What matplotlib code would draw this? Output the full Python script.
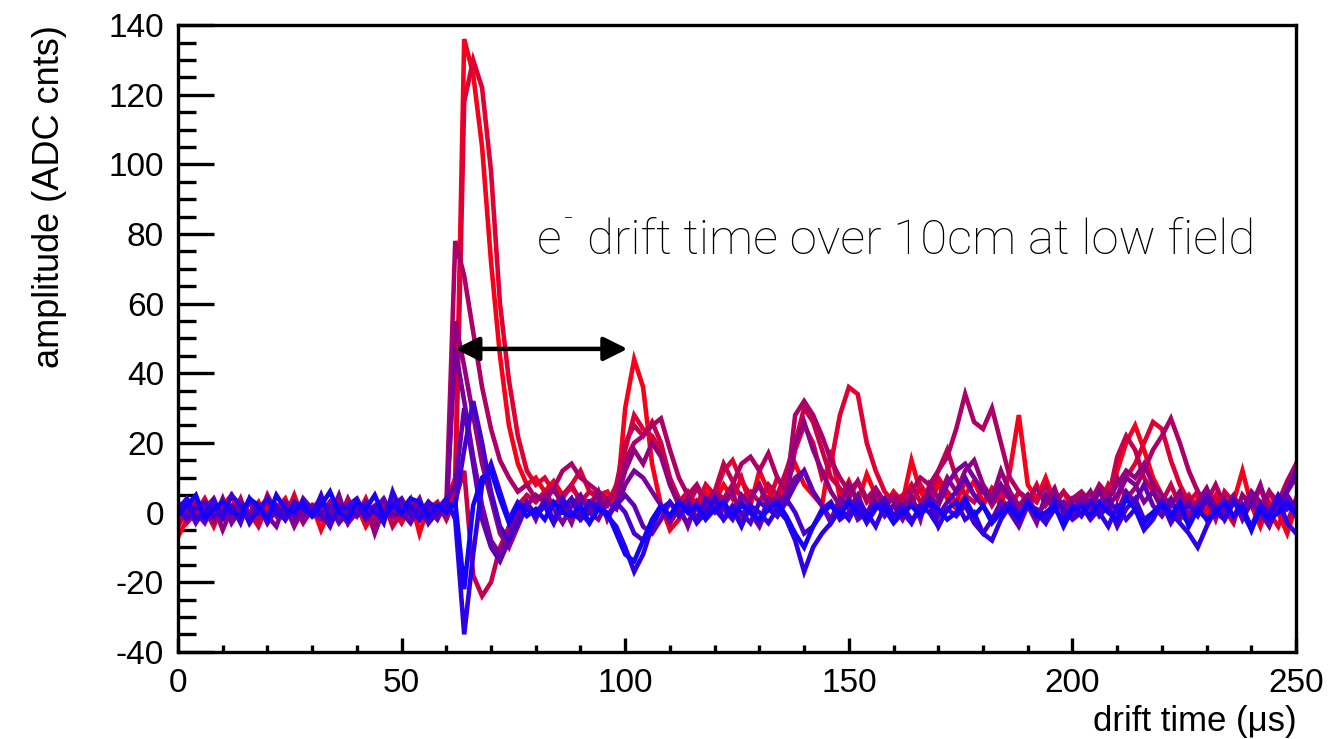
import numpy as np
import matplotlib
matplotlib.use('Agg')
import matplotlib.pyplot as plt
from matplotlib.ticker import MultipleLocator

plt.rcParams['axes.unicode_minus'] = False

# sample times (us), one sample every 2 us
drift_time = np.arange(0, 252, 2)

# waveforms, ordered from red (largest signal) to blue
wf_a = [-7, -2, 3, 1, -4, 2, 5, -1, 0, 3, -3, 1, 4, -2, 0, 2, -5, 1, 3, -1, 2, -4, 0, 3, -2, 1, 4, -6, 2, -1, 3,
        10, 136, 126, 105, 72, 45, 25, 14, 8, 10,
        6, 9, 5, 7, 4, 3, 5, 6, 2, 30, 44, 36, 14, 2, -5, -2, 4, 1, 6, 3,
        8, 4, 10, 2, 12, 6, 3, 9, 14, 8, 5, 2, 18, 4, 9, 3, 11, 5, 2, 6,
        3, 15, 6, 2, 8, 4, 1, 5, 9, 3, 6, 2, 12, 28, 8, 4, 10, 3, 6, 1,
        4, 2, 7, 3, 12, 20, 25, 18, 10, 5, 2, 6, -3, 4, 1, 5, -2, 3, 12, 2, -4, 3, 0, -6, 2]
wf_b = [2, -3, 0, 4, -1, 1, -2, 3, 0, -4, 2, 1, -1, 5, -2, 0, 3, -3, 1, 2, -1, 4, -2, 0, 1, -3, 2, 0, 3, -1, 1,
        6, 118, 130, 122, 98, 60, 38, 22, 12, 8,
        10, 6, 4, 8, 12, 6, 5, 3, 6, 18, 28, 24, 22, 18, 8, 3, 6, 2, 8, 5,
        12, 15, 9, 5, 8, 3, 10, 6, 18, 25, 20, 10, 14, 28, 36, 34, 20, 12, 6, 3,
        5, 2, 8, 4, 10, 6, 3, 9, 5, 2, 7, 4, 1, 6, 3, 8, 2, 5, 0, 4,
        3, 6, 2, 8, 4, 10, 14, 20, 26, 24, 15, 8, 3, 6, -2, 4, 1, -3, 5, 2, 7, 0, -4, 3, 1]
wf_c = [-4, 1, 3, -2, 0, 2, -1, 4, -3, 1, 0, 2, -2, 3, -1, 1, 4, -2, 0, -3, 2, 1, -1, 3, -4, 0, 2, -1, 1, 3, -2,
        4, 12, -18, -24, -20, -10, -4, 2, 5, 3,
        6, 2, 5, 8, 3, 6, 4, 2, 8, 20, 25, 22, 26, 20, 10, 4, 2, 7, 3, 6,
        14, 9, 4, 6, 3, 8, 5, 12, 20, 30, 26, 18, 10, 7, 4, 9, 3, 6, 2, 5,
        4, 8, 3, 6, 12, 18, 10, 5, 3, 7, 2, 6, 4, 1, 5, 3, 8, 2, 6, 3,
        5, 2, 7, 4, 16, 22, 18, 10, 6, 3, 8, 2, 5, 1, 4, -2, 6, 3, 0, 5, 2, 6, 1, -3, 4]
wf_d = [1, -2, 4, 0, -3, 2, 1, -1, 3, -2, 5, 0, -1, 2, -3, 1, 0, 3, -2, 4, -1, 1, -3, 2, 0, -1, 3, 1, -2, 0, 2,
        78, 68, 52, 36, 24, 15, 10, 6, 8, 4,
        5, 7, 12, 14, 10, 8, 6, 4, 5, 15, 20, 22, 25, 27, 18, 10, 5, 8, 3, 6,
        4, 8, 14, 16, 12, 17, 10, 6, 28, 32, 28, 22, 15, 10, 6, 9, 4, 7, 3, 5,
        2, 6, 10, 8, 12, 16, 24, 34, 26, 24, 30, 20, 10, 6, 4, 7, 3, 5, 2, 4,
        6, 3, 8, 5, 10, 4, 7, 12, 18, 22, 27, 20, 12, 6, 3, 8, 2, 5, 0, 4, -2, 6, 3, 9, 14]
wf_e = [-1, 3, 0, -3, 2, -5, 1, 2, -2, 0, 3, -1, 2, -4, 1, 0, -2, 3, 1, -3, 0, 2, -6, 1, -1, 3, 0, -2, 2, 1, -1,
        55, 42, 28, 14, 4, -6, -10, -4, 2, 5,
        3, 7, 2, -3, 4, 1, 6, -2, 3, 12, 18, 14, 20, 16, 8, 2, -4, 3, -1, 5,
        2, 6, -2, 4, 8, 1, 5, 3, 20, 26, 18, 12, 6, 2, 8, 3, -1, 6, 2, 4,
        1, 5, -2, 8, 4, 10, 6, 12, 15, 8, 4, 12, 6, 2, 5, -1, 3, 7, 0, 4,
        2, 6, 0, 4, 8, 12, 10, 14, 8, 5, 2, 6, -1, 3, 7, 1, 4, -2, 5, 2, 8, 0, 3, 6, 10]
wf_f = [3, -1, 2, 0, -2, 4, -3, 1, 0, 2, -1, -4, 3, 1, -2, 2, 0, -1, 5, -3, 1, 0, 2, -2, 3, -1, 0, 4, -3, 1, 0,
        47, 32, 16, 2, -8, -12, -6, 0, 3, -2,
        4, 1, -3, 2, 5, 0, -2, 3, 1, 8, 12, 10, 6, 2, -3, 1, 4, -2, 2, 0,
        3, -1, 5, 2, -3, 4, 1, 6, 10, 12, 6, 2, -2, 4, 1, 5, -1, 3, 0, 2,
        -2, 3, 1, 5, 2, 8, 12, 14, 10, 6, 3, 8, 4, 0, 2, -3, 5, 1, 3, -1,
        4, 1, 6, 2, 5, 10, 8, 3, 6, 1, 4, -2, 3, 0, 5, 2, -1, 4, 1, 6, 3, -2, 2, 5, 1]
wf_g = [0, 2, -3, 1, 4, -2, 0, 3, -1, 2, -3, 1, 0, -2, 4, 1, -1, 2, -3, 0, 3, -2, 1, 4, -1, 0, -3, 2, 1, -2, 3,
        8, 30, 14, -2, -10, -14, -8, -2, 3, -1,
        2, -3, 1, 4, -2, 0, 3, -1, 2, 5, 2, -4, -6, -2, 3, 0, -3, 2, -1, 4,
        1, -2, 3, 0, -4, 2, -1, 3, 8, 12, 6, 2, -3, 1, 4, -2, 0, 3, -1, 2,
        0, -3, 2, 4, -1, 3, 6, 10, 5, 2, -2, 3, 0, -4, 2, 1, -2, 4, 0, -1,
        2, -2, 1, 4, 0, 6, 3, 8, 2, -1, 3, 0, -3, 2, 5, -1, 1, 4, -2, 3, 0, -4, 2, 6, 12]
wf_h = [2, -2, 1, 3, -1, 0, 2, -3, 4, 0, -1, 2, -2, 1, 3, -1, 0, -4, 2, 1, -1, 3, 0, -2, 2, 4, -1, 1, -3, 0, 2,
        2, 18, 32, 20, 6, -4, -8, -3, 2, 0,
        3, -2, 1, 4, 0, -3, 2, -1, 3, 0, -6, -8, -3, 2, -1, 3, 0, -2, 4, 1,
        -2, 2, 0, -3, 3, 1, -1, 4, 0, -6, -4, 1, 3, -2, 0, 2, -3, 1, 4, -1,
        2, -2, 0, 3, -4, 1, -1, 2, -3, -6, -2, 1, 3, -1, 2, 0, -3, 4, 1, -2,
        0, 3, -1, 2, -4, 1, 4, -2, 0, 3, -3, 1, 2, -1, 4, 0, -2, 3, 1, -4, 2, 0, 5, 1, 3]
wf_i = [1, 4, -2, 0, 3, -1, 5, 2, -3, 1, 4, 0, -2, 3, 1, -1, 5, -2, 0, 2, 4, -1, 1, -3, 6, 0, 2, -2, 3, 1, 4,
        -2, -35, -12, 8, 14, 6, -2, 3, 1, -1,
        2, -3, 4, 0, -2, 3, 1, -1, -4, -10, -17, -12, -4, 1, 3, -1, 2, -3, 0, 4,
        -2, 1, -4, 2, 0, -3, 1, -2, -8, -17, -10, -6, -3, 1, -2, 3, 0, -4, 2, -1,
        1, -3, 2, 0, -4, 1, 3, -2, 0, -6, -8, -2, 2, -1, 3, 0, -3, 1, -2, 2,
        -1, 3, 0, -4, 2, -2, 1, -5, -2, 3, 0, -3, -6, -10, -4, 1, -2, 3, 0, -5, 2, -1, 4, -3, -6]
wf_j = [-1, 2, 5, -2, 1, 3, 0, -1, 4, 2, -2, 5, 1, 0, 3, -1, 2, 6, 0, -2, 3, 1, 5, -1, 2, 0, 4, 3, -1, 2, 0,
        3, -22, 2, 10, 12, 4, -3, 2, -1, 1,
        -2, 3, 0, -1, 2, -3, 1, 0, -6, -12, -14, -8, -2, 2, -1, 3, 0, 2, -2, 1,
        3, -1, 2, 0, -2, 1, 3, -1, -6, -10, -4, 0, 2, -1, 3, 0, -2, 2, 1, -3,
        0, 2, -1, 3, 1, -2, 0, 4, -1, 2, -3, 0, 1, -2, 3, -1, 0, 2, -4, 1,
        2, -1, 3, 0, -2, 4, 1, -3, 0, 2, -1, 3, -4, 1, -2, 0, 3, -1, 2, -5, 1, -2, 0, 3, -1]

waveforms = [wf_a, wf_b, wf_c, wf_d, wf_e, wf_f, wf_g, wf_h, wf_i, wf_j]

fig = plt.figure(figsize=(13.28, 7.39), dpi=100)
ax = fig.add_axes([0.134, 0.118, 0.842, 0.848])

n = len(waveforms)
for k, wf in enumerate(waveforms):
    f = k / (n - 1)
    col = (0.97 * (1 - f) + 0.08 * f, 0.0, 0.1 * (1 - f) + 1.0 * f)
    ax.plot(drift_time, wf, color=col, lw=3.3, solid_joinstyle='miter')

ax.set_xlim(0, 250)
ax.set_ylim(-40, 140)

ax.xaxis.set_major_locator(MultipleLocator(50))
ax.xaxis.set_minor_locator(MultipleLocator(10))
ax.yaxis.set_major_locator(MultipleLocator(20))
ax.yaxis.set_minor_locator(MultipleLocator(5))
ax.tick_params(axis='x', which='major', direction='in', length=10, width=2.4, pad=12, labelsize=24)
ax.tick_params(axis='x', which='minor', direction='in', length=5, width=2.4)
ax.tick_params(axis='y', which='major', direction='in', length=26, width=2.4, pad=10, labelsize=24)
ax.tick_params(axis='y', which='minor', direction='in', length=13, width=2.4)
for lab in ax.get_xticklabels() + ax.get_yticklabels():
    lab.set_family('Liberation Sans')
for s in ax.spines.values():
    s.set_linewidth(2.4)

ax.set_xlabel('drift time (\u03bcs)', fontsize=25, family='Liberation Sans')
ax.xaxis.set_label_coords(1.0, -0.085)
ax.xaxis.label.set_horizontalalignment('right')
ax.set_ylabel('amplitude (ADC cnts)', fontsize=26, family='Liberation Sans')
ax.yaxis.set_label_coords(-0.115, 1.0)
ax.yaxis.label.set_verticalalignment('center')
ax.yaxis.label.set_horizontalalignment('right')

ax.annotate('', xy=(62, 47), xytext=(100.5, 47),
            arrowprops=dict(arrowstyle='<|-|>', color='black', lw=3.2, mutation_scale=36,
                            shrinkA=0, shrinkB=0))
# annotation text: "e", raised minus, then the rest
ax.text(80.3, 78, 'e', fontsize=35, family=['Roboto', 'DejaVu Sans'], fontweight='light',
        va='center', ha='left')
ax.text(86.2, 84, '-', fontsize=22, family=['Roboto', 'DejaVu Sans'], fontweight='light',
        va='center', ha='left')
ax.text(91.5, 78, 'drift time over 10cm at low field', fontsize=35.5,
        family=['Roboto', 'DejaVu Sans'], fontweight='light', va='center', ha='left')

fig.savefig('out.png', dpi=100)
